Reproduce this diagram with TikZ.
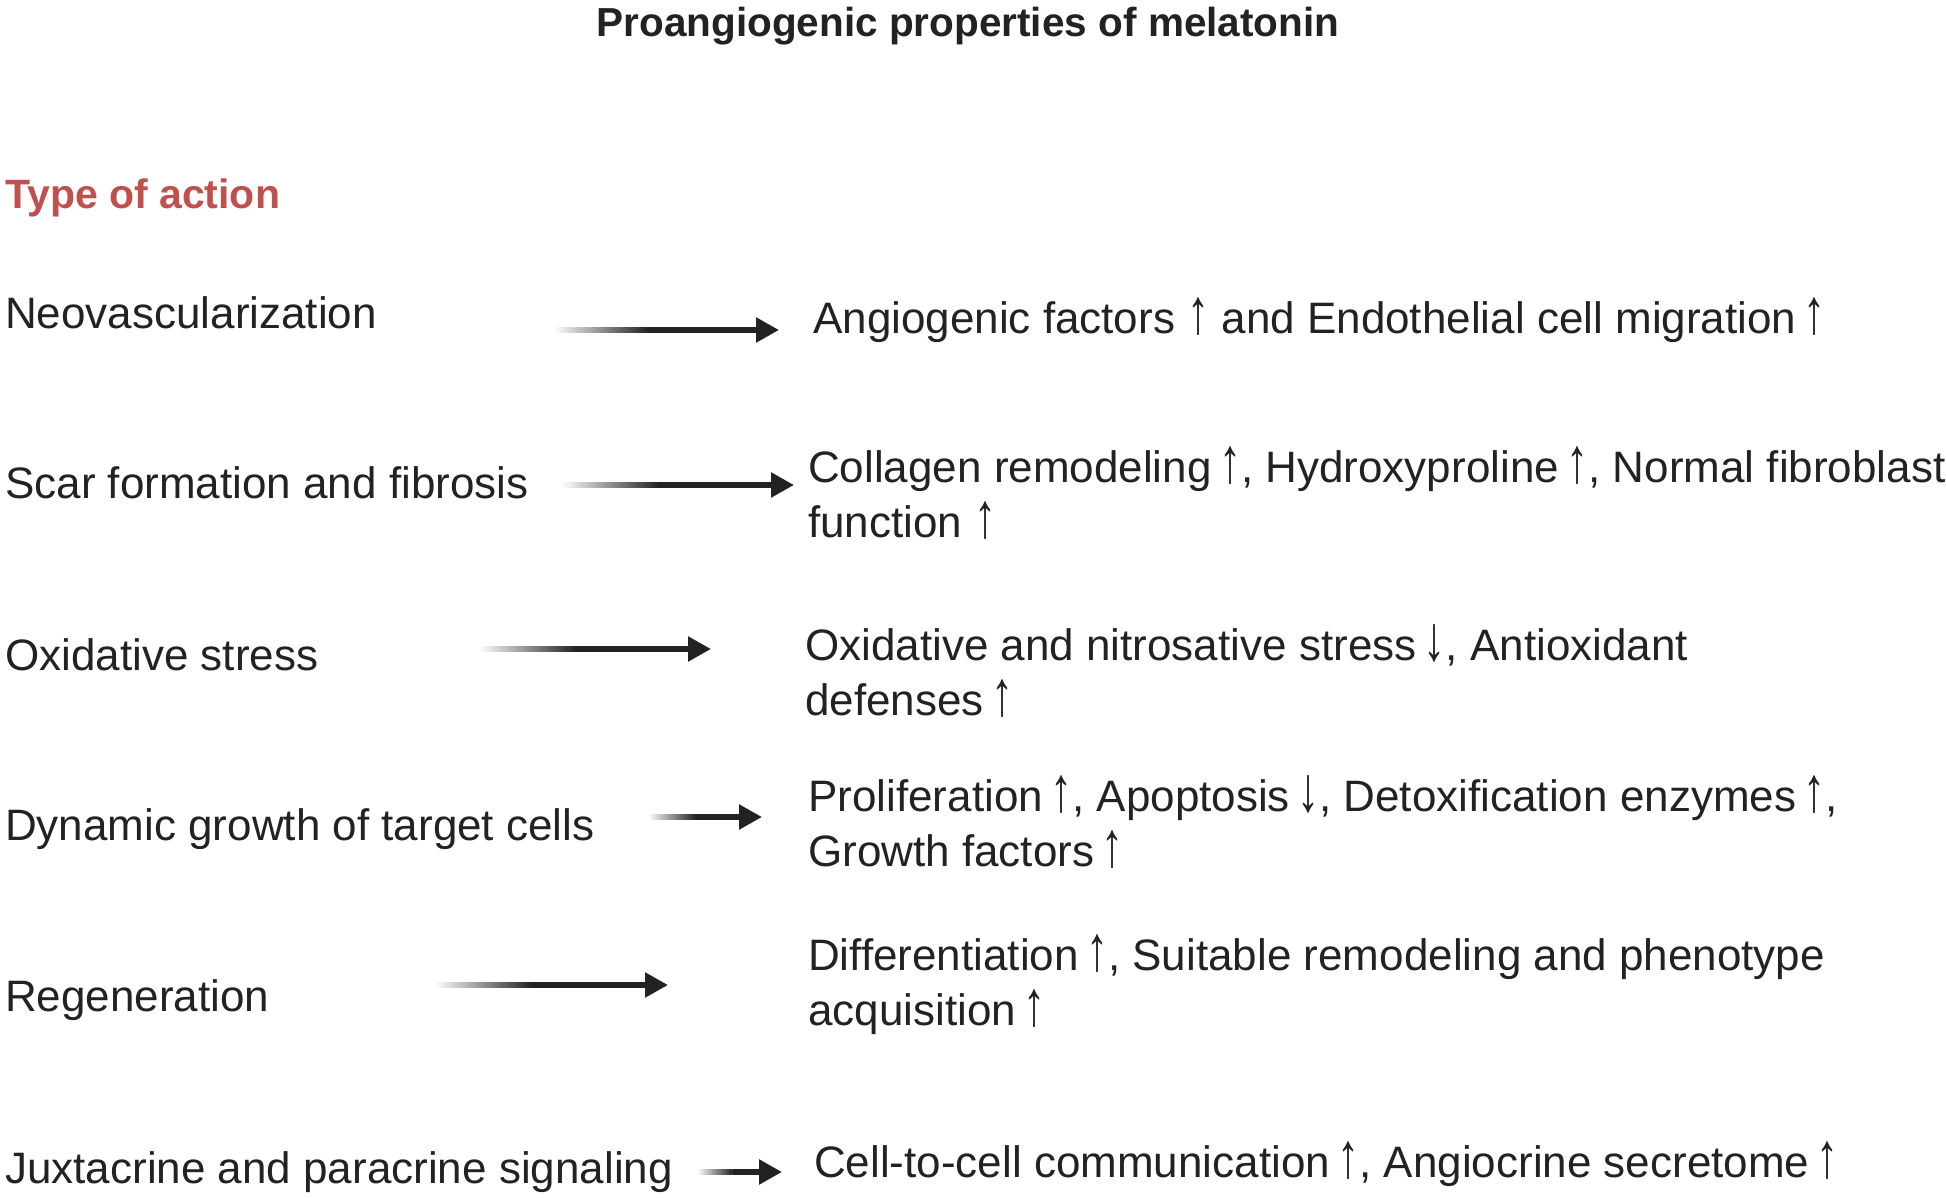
\documentclass[tikz,border=0pt]{standalone}
\usepackage{fontspec}
\setmainfont{Liberation Sans}
\usetikzlibrary{arrows.meta,calc}
\definecolor{txt}{HTML}{222222}
\definecolor{redhead}{HTML}{C0504D}
\newcommand{\up}{\scalebox{1}[1.45]{↑}}
\newcommand{\dn}{\scalebox{1}[1.45]{↓}}
\tikzset{
  body/.style={anchor=base west, inner sep=0pt, text=txt, font=\fontsize{44}{55.8}\selectfont},
  conn/.style={draw=txt, line width=5.5pt, -{Triangle[length=23pt,width=24pt]}},
}
\newcommand{\twol}[2]{\begin{tabular}[t]{@{}l@{}}#1\\#2\end{tabular}}
\newcommand{\fadearrow}[4]{% name, x1, x2, y
  \coordinate (s#1) at (#2,#4);
  \coordinate (e#1) at (#3,#4);
  \coordinate (m#1) at ($(s#1)!0.42!(e#1)$);
  \shade[left color=white, right color=txt] ($(s#1)+(0,-2.75)$) rectangle ($(m#1)+(0,2.75)$);
  \draw[conn] (m#1) -- (e#1);
}
\begin{document}
\begin{tikzpicture}[x=1pt,y=-1pt]
\useasboundingbox[fill=white] (0,0) rectangle (1946,1198);
\node[anchor=base, inner sep=0pt, text=txt, font=\fontsize{40.5}{48}\selectfont\bfseries] (title) at (968,37) {Proangiogenic properties of melatonin};
\node[anchor=base west, inner sep=0pt, text=redhead, font=\fontsize{41}{48}\selectfont\bfseries] (type) at (5,209) {Type of action};

\node[body] (l1) at (5,328) {Neovascularization};
\node[body] (l2) at (5,498) {Scar formation and fibrosis};
\node[body] (l3) at (5,670) {Oxidative stress};
\node[body] (l4) at (5,840) {Dynamic growth of target cells};
\node[body] (l5) at (5,1011) {Regeneration};
\node[body] (l6) at (5,1183) {Juxtacrine and paracrine signaling};

\node[body] (r1) at (813,334) {Angiogenic factors \up\ and Endothelial cell migration\,\up};
\node[body] (r2) at (808,482) {\twol{Collagen remodeling\,\up, Hydroxyproline\,\up, Normal fibroblast}{function \up}};
\node[body] (r3) at (805,660) {\twol{Oxidative and nitrosative stress\,\dn, Antioxidant}{defenses\,\up}};
\node[body] (r4) at (808,811) {\twol{Proliferation\,\up, Apoptosis\,\dn, Detoxification enzymes\,\up,}{Growth factors\,\up}};
\node[body] (r5) at (808,970) {\twol{Differentiation\,\up, Suitable remodeling and phenotype}{acquisition\,\up}};
\node[body] (r6) at (814,1177) {Cell-to-cell communication\,\up, Angiocrine secretome\,\up};

\fadearrow{1}{553}{779}{330}
\fadearrow{2}{561}{794}{485}
\fadearrow{3}{478}{711}{649}
\fadearrow{4}{648}{762}{817}
\fadearrow{5}{434}{668}{985}
\fadearrow{6}{697}{782}{1172}
\end{tikzpicture}
\end{document}
